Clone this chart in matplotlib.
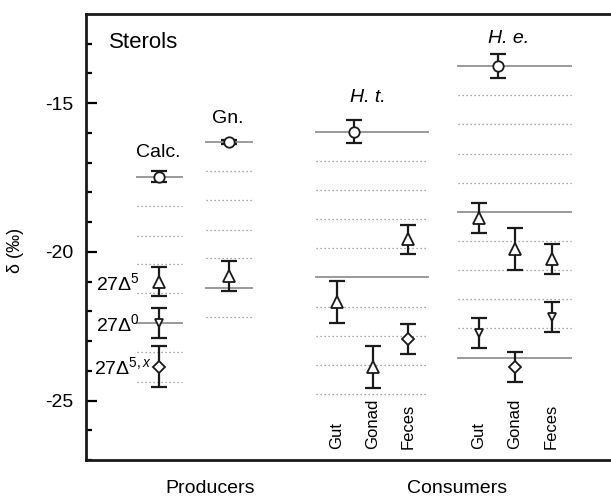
import matplotlib
matplotlib.use('Agg')
import matplotlib.pyplot as plt

plt.rcParams['font.family'] = ['Liberation Sans', 'DejaVu Sans']
plt.rcParams['mathtext.fontset'] = 'custom'
plt.rcParams['mathtext.rm'] = 'Liberation Sans'
plt.rcParams['mathtext.it'] = 'Liberation Sans:italic'
plt.rcParams['axes.unicode_minus'] = False

# group positions (x in axis units) and extents of reference lines
group_names = ['Calc.', 'Gn.', 'H. t.', 'H. e.']
group_spans = [(137, 182), (206, 252), (316, 428), (458, 571)]

# reference lines per group (delta, permil)
solid_lines = [[-17.47, -22.4], [-16.3, -21.2], [-15.96, -20.85],
               [-13.76, -18.65, -23.56]]
dotted_lines = [[-18.47, -19.45, -20.42, -21.39, -23.36, -24.36],
                [-17.27, -18.24, -19.25, -20.2, -22.19],
                [-16.94, -17.91, -18.9, -19.88, -21.86, -22.83, -23.8, -24.77],
                [-14.73, -15.7, -16.7, -17.68, -19.65, -20.62, -21.6, -22.56]]

# data points: x position, mean, error, marker
pt_x = [159, 159, 159, 159, 229, 229,
        354, 337, 373, 408, 408,
        498, 479, 515, 552, 479, 552, 515]
pt_y = [-17.47, -21.0, -22.39, -23.86, -16.3, -20.8,
        -15.96, -21.68, -23.88, -19.58, -22.92,
        -13.76, -18.86, -19.9, -20.25, -22.72, -22.2, -23.86]
pt_err = [0.18, 0.48, 0.5, 0.68, 0.06, 0.5,
          0.38, 0.7, 0.7, 0.49, 0.5,
          0.4, 0.49, 0.7, 0.5, 0.5, 0.5, 0.5]
pt_marker = ['o', '^', 'v', 'D', 'o', '^',
             'o', '^', '^', '^', 'D',
             'o', '^', '^', '^', 'v', 'v', 'D']

tissue_x = [337, 373, 408, 479, 515, 551]
tissue_labels = ['Gut', 'Gonad', 'Feces', 'Gut', 'Gonad', 'Feces']

msize = {'o': 7.5, '^': 8.5, 'v': 6, 'D': 6}

fig = plt.figure(figsize=(6.11, 4.98), dpi=100)
ax = fig.add_axes([86 / 611, 1 - 460 / 498, 1 - 86 / 611, 446 / 498])

for (x0, x1), sl, dl in zip(group_spans, solid_lines, dotted_lines):
    for y in sl:
        ax.plot([x0, x1], [y, y], color='#9a9a9a', lw=1.4, zorder=1)
    for y in dl:
        ax.plot([x0, x1], [y, y], color='#8a8a8a', lw=0.9,
                linestyle=(0, (1, 2.2)), zorder=1)

for x, y, e, m in zip(pt_x, pt_y, pt_err, pt_marker):
    ax.errorbar(x, y, yerr=e, fmt='none', ecolor='#1a1a1a', elinewidth=1.6,
                capsize=5.5, capthick=1.6, zorder=2)
    ax.plot(x, y, marker=m, ms=msize[m], mfc='white', mec='#1a1a1a',
            mew=1.3, linestyle='none', zorder=3)

ax.set_xlim(86, 611)
ax.set_ylim(-27, -12)
ax.set_yticks([-25, -20, -15])
ax.set_yticks(range(-27, -12), minor=True)
ax.set_xticks([])
ax.tick_params(axis='y', which='major', direction='in', length=8, width=1.6,
               labelsize=14, pad=9)
ax.tick_params(axis='y', which='minor', direction='in', length=4.5, width=1.6)
for s in ['left', 'top', 'bottom']:
    ax.spines[s].set_linewidth(2)
    ax.spines[s].set_color('#1a1a1a')
ax.spines['right'].set_visible(False)

ax.set_ylabel('δ (‰)', fontsize=13)
ax.yaxis.set_label_coords((24 - 86) / 525, 1 - (250 - 14) / 446)

ax.text(109, -12.96, 'Sterols', fontsize=16, va='center', ha='left')
ax.text(158, -16.67, 'Calc.', fontsize=14, va='center', ha='center')
ax.text(228, -15.5, 'Gn.', fontsize=14, va='center', ha='center')
ax.text(368, -14.8, 'H. t.', fontsize=14, va='center', ha='center',
        style='italic')
ax.text(509, -12.83, 'H. e.', fontsize=14, va='center', ha='center',
        style='italic')

ax.text(96, -21.29, '27Δ$^{5}$', fontsize=14, va='baseline', ha='left')
ax.text(96, -22.66, '27Δ$^{0}$', fontsize=14, va='baseline', ha='left')
ax.text(94, -24.1, '27Δ$^{5,\\mathit{x}}$', fontsize=14, va='baseline',
        ha='left')

for x, t in zip(tissue_x, tissue_labels):
    ax.text(x, -26.62, t, fontsize=12, rotation=90, va='bottom', ha='center')

fig.text(210 / 611, 1 - 488 / 498, 'Producers', fontsize=14, ha='center',
         va='center')
fig.text(457 / 611, 1 - 488 / 498, 'Consumers', fontsize=14, ha='center',
         va='center')

fig.savefig('out.png', dpi=100)
